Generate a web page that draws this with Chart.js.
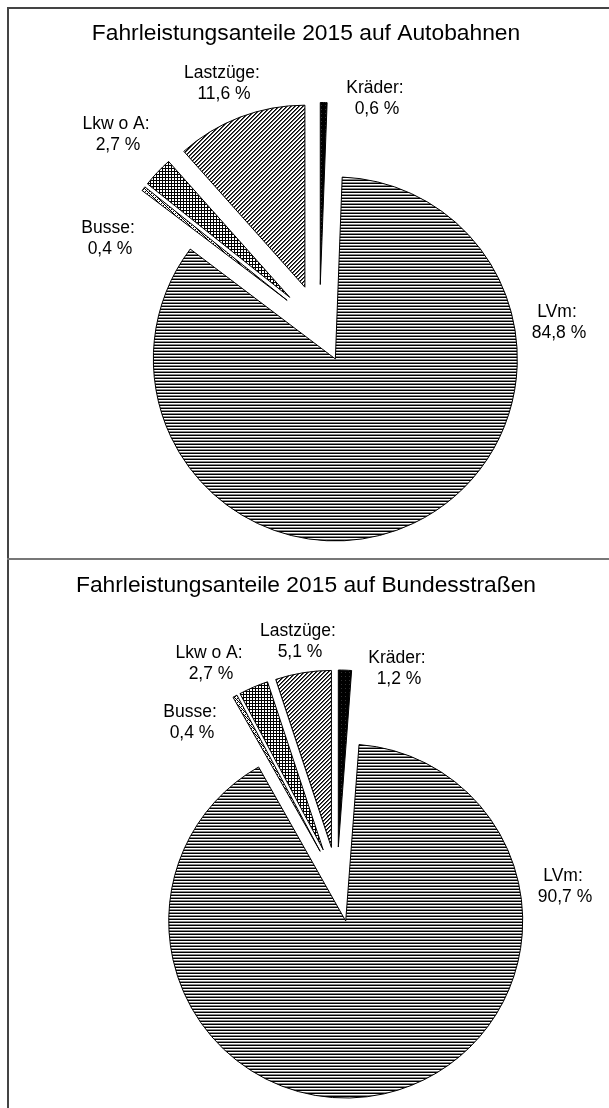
<!DOCTYPE html>
<html>
<head>
<meta charset="utf-8">
<script src="https://cdn.jsdelivr.net/npm/chart.js@4.4.1/dist/chart.umd.min.js"></script>
<style>
  html, body { margin: 0; padding: 0; background: #fff; }
  #page { position: relative; width: 609px; height: 1108px; overflow: hidden; }
  .frame-left { position: absolute; left: 7px; top: 7px; width: 2px; height: 1101px; background: #444; }
  .frame-top { position: absolute; left: 7px; top: 7px; width: 602px; height: 2px; background: #444; }
  .sep { position: absolute; left: 7px; top: 558px; width: 602px; height: 2px; background: #777; }
  canvas { position: absolute; left: 0; }
</style>
</head>
<body>
<div id="page">
  <canvas id="chart-a" width="609" height="559" style="top:0"></canvas>
  <canvas id="chart-b" width="609" height="549" style="top:559px"></canvas>
  <div class="frame-left"></div>
  <div class="frame-top"></div>
  <div class="sep"></div>
</div>
<script>
// data, clockwise from 12 o'clock
const categories = ['Kräder', 'LVm', 'Busse', 'Lkw o A', 'Lastzüge'];
const autobahnValues = [0.6, 84.8, 0.4, 2.7, 11.6];
const bundesValues = [1.2, 90.7, 0.4, 2.7, 5.1];
const titles = ['Fahrleistungsanteile 2015 auf Autobahnen', 'Fahrleistungsanteile 2015 auf Bundesstraßen'];

const fmt = v => v.toFixed(1).replace('.', ',') + ' %';

// little tiles for the hatch fills
function tile(w, h, paint) {
  const c = document.createElement('canvas');
  c.width = w; c.height = h;
  const x = c.getContext('2d');
  x.fillStyle = '#fff';
  x.fillRect(0, 0, w, h);
  for (let i = 0; i < w; i++) {
    for (let j = 0; j < h; j++) {
      const col = paint(i, j);
      if (col) { x.fillStyle = col; x.fillRect(i, j, 1, 1); }
    }
  }
  return x.createPattern(c, 'repeat');
}
const fills = [
  tile(4, 4, (i, j) => (i === 1 && j === 1) ? '#333' : '#000'),                    // Kräder
  tile(4, 3, (i, j) => j === 0 ? '#000' : (j === 2 ? '#888' : null)),             // LVm
  tile(4, 4, (i, j) => ((i + j) % 4 === 0 || (i - j + 4) % 4 === 0) ? '#000' : null), // Busse
  tile(3, 3, (i, j) => (i === 0 || j === 0) ? '#000' : null),                      // Lkw o A
  tile(4, 4, (i, j) => (i + j) % 4 === 0 ? '#000' : ((i + j) % 4 === 1 ? '#555' : null)) // Lastzüge
];

// pull slices out of the centre
function explodePlugin(amount) {
  return {
    id: 'explode',
    afterDatasetUpdate(chart, args) {
      args.meta.data.forEach((arc, i) => {
        const mid = (arc.startAngle + arc.endAngle) / 2;
        arc.x += Math.cos(mid) * amount[i];
        arc.y += Math.sin(mid) * amount[i];
      });
    }
  };
}

function labelPlugin(values, title, titleY, spots) {
  return {
    id: 'sliceLabels',
    afterDraw(chart) {
      const ctx = chart.ctx;
      ctx.save();
      ctx.fillStyle = '#000';
      ctx.textAlign = 'center';
      ctx.textBaseline = 'alphabetic';
      ctx.font = '22.8px "Liberation Sans", Arial, sans-serif';
      ctx.fillText(title, 306, titleY);
      ctx.font = '17.5px "Liberation Sans", Arial, sans-serif';
      ctx.textBaseline = 'middle';
      spots.forEach((p, i) => {
        ctx.fillText(categories[i] + ':', p[0], p[1]);
        ctx.fillText(fmt(values[i]), p[0] + 2, p[1] + 21);
      });
      ctx.restore();
    }
  };
}

function pieConfig(values, radius, padding, explode, title, titleY, spots) {
  return {
    type: 'pie',
    data: {
      labels: categories,
      datasets: [{
        data: values,
        backgroundColor: fills,
        borderColor: '#000',
        borderWidth: 1,
        borderJoinStyle: 'miter'
      }]
    },
    options: {
      responsive: false,
      animation: false,
      radius: radius,
      layout: { padding: padding },
      plugins: {
        legend: { display: false },
        tooltip: { enabled: false }
      }
    },
    plugins: [explodePlugin(explode), labelPlugin(values, title, titleY, spots)]
  };
}

new Chart(document.querySelector('#chart-a'), pieConfig(
  autobahnValues, 182,
  { left: 30, right: 0, top: 92, bottom: 0 },
  [41, 37, 41, 41, 41],
  titles[0], 40,
  [[375, 88], [557, 312], [108, 228], [116, 124], [222, 73]]
));

new Chart(document.querySelector('#chart-b'), pieConfig(
  bundesValues, 177,
  { left: 65, right: 0, top: 97, bottom: 0 },
  [35, 40, 35, 35, 35],
  titles[1], 33,
  [[397, 99], [563, 317], [190, 153], [209, 94], [298, 72]]
));
</script>
</body>
</html>
